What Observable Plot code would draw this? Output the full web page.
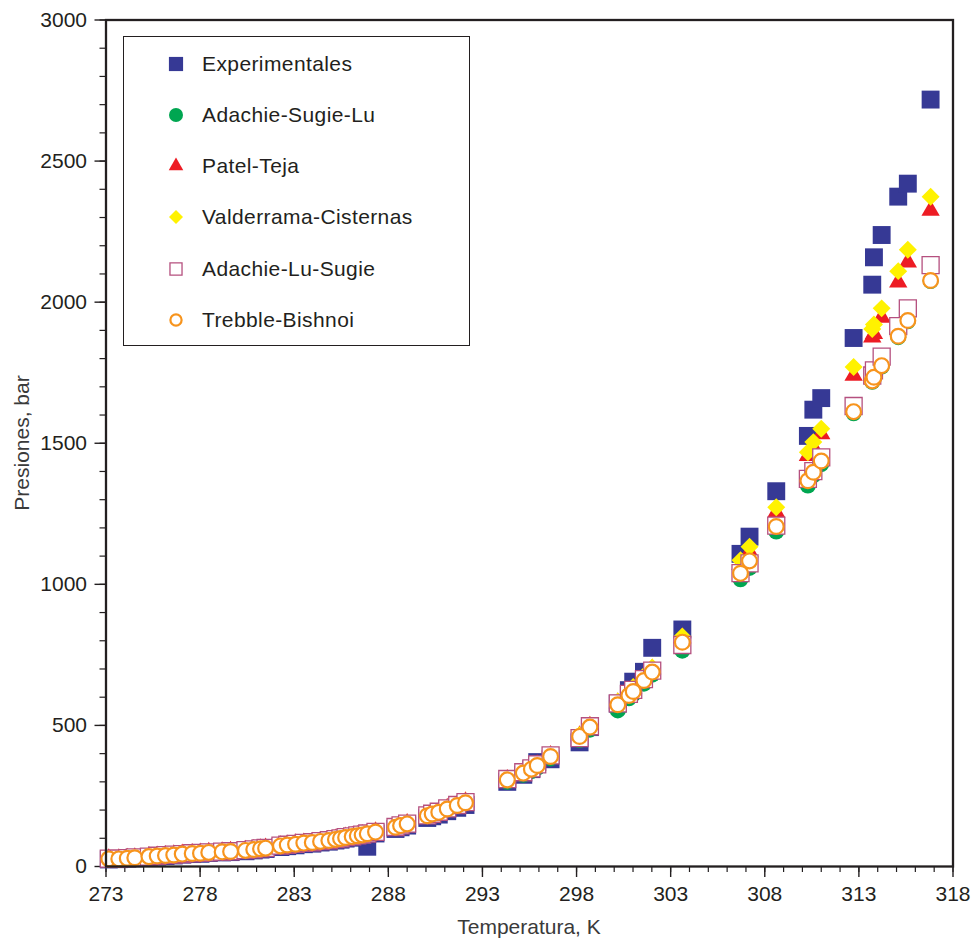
<!DOCTYPE html>
<html>
<head>
<meta charset="utf-8">
<script src="https://cdn.jsdelivr.net/npm/d3@7"></script>
<script src="https://cdn.jsdelivr.net/npm/@observablehq/plot@0.6"></script>
<style>
  body { margin: 0; background: #fff; }
  #wrap { position: relative; width: 977px; height: 945px; }
  #legend {
    position: absolute; left: 123px; top: 36px; width: 347px; height: 310px;
    border: 1.6px solid #231f20; box-sizing: border-box; background: #fff;
    font-family: "Liberation Sans", Arial, sans-serif; font-size: 21px; color: #231f20;
  }
  .row { position: absolute; left: 0; height: 30px; display: flex; align-items: center; }
  .row svg { position: absolute; left: 40px; }
  .row span { position: absolute; left: 78px; white-space: nowrap; letter-spacing: 0.4px; }
</style>
</head>
<body>
<div id="wrap"></div>
<script>
// ---- Data ----
const temperaturas = [
  273.15, 273.68, 274.13, 274.53, 275.28, 275.72, 276.16, 276.60, 277.05, 277.58,
  278.02, 278.46, 279.17, 279.62, 280.41, 280.85, 281.21, 281.48, 282.27, 282.63,
  283.07, 283.51, 283.96, 284.40, 284.84, 285.19, 285.46, 285.73, 286.08, 286.35,
  286.61, 286.88, 287.32, 288.38, 288.65, 289.00, 290.07, 290.33, 290.68, 291.13,
  291.66, 292.10,
  294.32, 295.17, 295.60, 295.91, 296.62, 298.16, 298.71, 300.19, 300.78, 301.01,
  301.58, 302.02, 303.62, 306.71, 307.19, 308.61, 310.29, 310.58, 311.00, 312.72,
  313.71, 313.80, 314.21, 315.09, 315.60, 316.81
];
const experimentales = [
  25, 26, 28, 29, 33, 35, 37, 39, 42, 44, 45, 48, 50, 51, 54, 57, 60, 62, 69, 72,
  75, 79, 81, 85, 88, 92, 95, 99, 102, 105, 108, 70, 117, 133, 139, 145, 172, 178, 184, 196,
  208, 218,
  300, 325, 345, 370, 380, 440, 494, 577, 625, 655,
  690, 775, 840, 1108, 1169, 1330, 1526, 1619, 1660, 1873,
  2062, 2159, 2238, 2374, 2420, 2718
];
const adachieSugieLu = [
  26, 26, 28, 30, 34, 36, 38, 40, 43, 45, 46, 49, 51, 52, 56, 59, 62, 64, 72, 75,
  78, 82, 84, 88, 91, 95, 98, 102, 105, 108, 111, 115, 121, 137, 143, 149, 178, 184, 190, 202,
  214, 224,
  300, 325, 338, 350, 383, 448, 485, 553, 596, 610,
  648, 680, 765, 1018, 1058, 1187, 1350, 1386, 1426, 1606,
  1718, 1731, 1772, 1876, 1932, 2075
];
const patelTeja = [
  27, 27, 29, 31, 35, 37, 39, 41, 44, 46, 48, 50, 52, 54, 57, 60, 63, 65, 73, 76,
  80, 83, 86, 89, 93, 97, 100, 104, 107, 110, 113, 117, 123, 140, 146, 152, 181, 187, 194, 206,
  218, 229,
  308, 333, 347, 360, 393, 463, 497, 580, 615, 630,
  668, 700, 810, 1070, 1115, 1255, 1456, 1486, 1533, 1740,
  1876, 1888, 1946, 2071, 2142, 2325
];
const valderramaCisternas = [
  27, 28, 29, 31, 35, 37, 40, 42, 44, 46, 48, 50, 53, 54, 58, 61, 63, 66, 74, 77,
  80, 84, 86, 90, 93, 97, 100, 104, 108, 111, 114, 118, 124, 141, 147, 153, 182, 188, 195, 207,
  219, 230,
  309, 334, 348, 361, 394, 465, 500, 585, 620, 636,
  675, 705, 815, 1085, 1133, 1273, 1468, 1504, 1551, 1770,
  1905, 1921, 1978, 2110, 2186, 2374
];
const adachieLuSugie = [
  28, 28, 30, 32, 35, 38, 40, 42, 44, 47, 48, 50, 53, 54, 58, 61, 64, 66, 74, 77,
  80, 84, 86, 90, 93, 97, 100, 104, 107, 110, 113, 117, 123, 140, 146, 152, 181, 187, 194, 206,
  218, 228,
  310, 334, 348, 362, 394, 455, 497, 578, 612, 626,
  664, 694, 785, 1040, 1074, 1208, 1374, 1401, 1450, 1632,
  1740, 1758, 1807, 1915, 1978, 2131
];
const trebbleBishnoi = [
  27, 27, 29, 31, 35, 37, 39, 41, 44, 46, 47, 50, 52, 53, 57, 60, 63, 65, 73, 76,
  79, 83, 85, 89, 92, 96, 99, 103, 106, 109, 112, 116, 122, 139, 145, 151, 180, 186, 192, 204,
  216, 226,
  307, 331, 345, 358, 390, 461, 494, 573, 606, 620,
  659, 689, 795, 1039, 1083, 1205, 1367, 1397, 1437, 1612,
  1721, 1734, 1775, 1879, 1935, 2077
];
const xTicks = [273, 278, 283, 288, 293, 298, 303, 308, 313, 318];
const yTicks = [0, 500, 1000, 1500, 2000, 2500, 3000];
const xTitle = "Temperatura, K";
const yTitle = "Presiones, bar";

// ---- Series styling ----
const series = [
  {name: "Experimentales",        values: experimentales,      symbol: "square",   r: 10.1, fill: "#363995", stroke: "none",    sw: 0,   lr: 8},
  {name: "Adachie-Sugie-Lu",      values: adachieSugieLu,      symbol: "circle",   r: 8,    fill: "#00a651", stroke: "none",    sw: 0,   lr: 7},
  {name: "Patel-Teja",            values: patelTeja,           symbol: "triangle", r: 6.8,  fill: "#ed1c24", stroke: "none",    sw: 0,   lr: 5.4},
  {name: "Valderrama-Cisternas",  values: valderramaCisternas, symbol: "diamond2", r: 8.1,  fill: "#fff200", stroke: "none",    sw: 0,   lr: 6.3},
  {name: "Adachie-Lu-Sugie",      values: adachieLuSugie,      symbol: "square",   r: 9.6,  fill: "#ffffff", stroke: "#b5507f", sw: 1.3, lr: 6.8},
  {name: "Trebble-Bishnoi",       values: trebbleBishnoi,      symbol: "circle",   r: 7.4,  fill: "#ffffff", stroke: "#f7941d", sw: 2.2, lr: 5.6}
];

const minorX = d3.range(273, 319, 1);
const minorY = d3.range(0, 3001, 100);
const ink = "#231f20";

const dots = series.map(s =>
  Plot.dot(temperaturas.map((t, i) => ({T: t, P: s.values[i]})), {
    x: "T", y: "P", symbol: () => s.symbol, r: s.r,
    fill: s.fill, stroke: s.stroke, strokeWidth: s.sw
  })
);

const plot = Plot.plot({
  width: 977, height: 945,
  marginLeft: 105.5, marginRight: 24.5, marginTop: 19.5, marginBottom: 79,
  style: {fontFamily: "'Liberation Sans', Arial, sans-serif", fontSize: "21px", color: ink, background: "#fff"},
  x: {domain: [273, 318]},
  y: {domain: [0, 3000]},
  symbol: {type: "identity"},
  marks: [
    Plot.axisX(minorX, {tickSize: 6, text: null, stroke: ink, strokeWidth: 1.2, label: null}),
    Plot.axisX(xTicks, {tickSize: 11, tickPadding: 9, tickFormat: "d", label: null, stroke: ink, strokeWidth: 1.4, fill: ink}),
    Plot.axisY(minorY, {tickSize: 6, text: null, stroke: ink, strokeWidth: 1.2, label: null}),
    Plot.axisY(yTicks, {tickSize: 11, tickPadding: 8, tickFormat: "d", label: null, stroke: ink, strokeWidth: 1.4, fill: ink}),
    ...dots,
    Plot.frame({stroke: ink, strokeWidth: 2.3})
  ]
});

const wrap = document.getElementById("wrap");
wrap.appendChild(plot);

// Axis titles
const svg = d3.select(plot);
svg.append("text").text(xTitle)
  .attr("x", 529).attr("y", 934)
  .attr("text-anchor", "middle").attr("fill", "#3a3a3a")
  .style("font-size", "21px");
svg.append("text").text(yTitle)
  .attr("transform", "translate(29,443) rotate(-90)")
  .attr("text-anchor", "middle").attr("fill", "#3a3a3a")
  .style("font-size", "21px");

// Legend (inside the plot area, as in the reference)
const legend = document.createElement("div");
legend.id = "legend";
const rowTops = [27, 78, 129, 180, 232, 283];
series.forEach((s, i) => {
  const row = document.createElement("div");
  row.className = "row";
  row.style.top = (rowTops[i] - 15) + "px";
  const sym = d3.create("svg").attr("width", 24).attr("height", 30);
  const symType = s.symbol === "square" ? d3.symbolSquare : s.symbol === "circle" ? d3.symbolCircle
    : s.symbol === "triangle" ? d3.symbolTriangle : d3.symbolDiamond2;
  sym.append("path")
    .attr("transform", "translate(12,15)")
    .attr("d", d3.symbol(symType, Math.PI * s.lr * s.lr)())
    .attr("fill", s.fill).attr("stroke", s.stroke).attr("stroke-width", s.sw);
  row.appendChild(sym.node());
  const label = document.createElement("span");
  label.textContent = s.name;
  row.appendChild(label);
  legend.appendChild(row);
});
wrap.appendChild(legend);
</script>
</body>
</html>
